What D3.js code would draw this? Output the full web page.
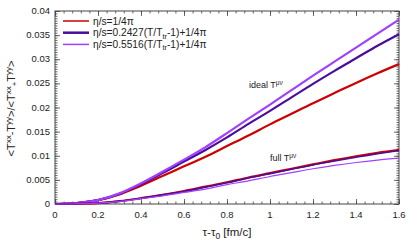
<!DOCTYPE html>
<html>
<head>
<meta charset="utf-8">
<script src="https://cdn.jsdelivr.net/npm/d3@7"></script>
<style>
  body { margin: 0; background: #fff; }
  svg text { font-family: "Liberation Sans", Arial, sans-serif; fill: #222; }
</style>
</head>
<body>
<div id="chart"></div>
<script>
// time axis values
var tau = [0, 0.1, 0.2, 0.3, 0.4, 0.5, 0.6, 0.7, 0.8, 0.9, 1.0, 1.1, 1.2, 1.3, 1.4, 1.5, 1.6];

// ideal T^{mu nu} anisotropy
var idealConst = [0, 0.0002, 0.0008, 0.0020, 0.0038, 0.0058, 0.0078, 0.0098, 0.0120, 0.0142, 0.0165, 0.0187, 0.0209, 0.0230, 0.0251, 0.0271, 0.0290];
var idealA = [0, 0.0002, 0.0008, 0.0021, 0.0041, 0.0064, 0.0088, 0.0112, 0.0138, 0.0166, 0.0193, 0.0221, 0.0249, 0.0276, 0.0302, 0.0328, 0.0352];
var idealB = [0, 0.0002, 0.0008, 0.0022, 0.0043, 0.0067, 0.0092, 0.0118, 0.0147, 0.0177, 0.0206, 0.0236, 0.0266, 0.0295, 0.0324, 0.0353, 0.0382];

// full T^{mu nu} anisotropy
var fullConst = [0, 0.00005, 0.0002, 0.0006, 0.0012, 0.0019, 0.0027, 0.0036, 0.0045, 0.0055, 0.0064, 0.0073, 0.0082, 0.0091, 0.0099, 0.0106, 0.0112];
var fullA = [0, 0.00005, 0.0002, 0.0006, 0.0012, 0.0019, 0.0026, 0.0035, 0.0044, 0.0054, 0.0063, 0.0072, 0.0081, 0.0089, 0.0097, 0.0104, 0.0111];
var fullB = [0, 0.00005, 0.0002, 0.0005, 0.0011, 0.0017, 0.0024, 0.0031, 0.0040, 0.0048, 0.0057, 0.0065, 0.0073, 0.0080, 0.0086, 0.0091, 0.0095];

var xTicks = [0, 0.2, 0.4, 0.6, 0.8, 1, 1.2, 1.4, 1.6];
var yTicks = [0, 0.005, 0.01, 0.015, 0.02, 0.025, 0.03, 0.035, 0.04];

var colors = {c: "#cc0000", a: "#4a0d9c", b: "#a040ff"};

// setting the dimensions and margins of the chart
var margin = {top: 11, right: 13, bottom: 43, left: 55},
    width = 412 - margin.left - margin.right,
    height = 247 - margin.top - margin.bottom;

var svg = d3.select("#chart").append("svg")
    .attr("width", 412)
    .attr("height", 247)
  .append("g")
    .attr("transform", "translate(" + margin.left + "," + margin.top + ")");

var x = d3.scaleLinear().domain([0, 1.6]).range([0, width]);
var y = d3.scaleLinear().domain([0, 0.04]).range([height, 0]);

// minor ticks, all pointing inward
var xMinor = d3.range(0, 1.6001, 0.04);
var yMinor = d3.range(0, 0.04001, 0.0005);

function styleAxis(g) {
  g.select(".domain").remove();
  g.selectAll("line").attr("stroke", "#444").attr("stroke-width", 0.8);
}

svg.append("g").attr("transform", "translate(0," + height + ")")
  .call(d3.axisTop(x).tickValues(xMinor).tickSize(2.5).tickFormat(""))
  .call(styleAxis);
svg.append("g")
  .call(d3.axisBottom(x).tickValues(xMinor).tickSize(2.5).tickFormat(""))
  .call(styleAxis);
svg.append("g")
  .call(d3.axisRight(y).tickValues(yMinor).tickSize(2.5).tickFormat(""))
  .call(styleAxis);
svg.append("g").attr("transform", "translate(" + width + ",0)")
  .call(d3.axisLeft(y).tickValues(yMinor).tickSize(2.5).tickFormat(""))
  .call(styleAxis);

// major ticks with labels
svg.append("g").attr("transform", "translate(0," + height + ")")
  .call(d3.axisTop(x).tickValues(xTicks).tickSize(5).tickFormat(""))
  .call(styleAxis);
svg.append("g")
  .call(d3.axisBottom(x).tickValues(xTicks).tickSize(5).tickFormat(""))
  .call(styleAxis);
svg.append("g")
  .call(d3.axisRight(y).tickValues(yTicks).tickSize(5).tickFormat(""))
  .call(styleAxis);
svg.append("g").attr("transform", "translate(" + width + ",0)")
  .call(d3.axisLeft(y).tickValues(yTicks).tickSize(5).tickFormat(""))
  .call(styleAxis);

svg.append("g").selectAll("text")
  .data(xTicks).enter().append("text")
    .attr("x", function(d) { return x(d); })
    .attr("y", height + 14)
    .attr("text-anchor", "middle")
    .attr("font-size", "9.5px")
    .text(function(d) { return d; });

svg.append("g").selectAll("text")
  .data(yTicks).enter().append("text")
    .attr("x", -5)
    .attr("y", function(d) { return y(d) + 3; })
    .attr("text-anchor", "end")
    .attr("font-size", "9.5px")
    .text(function(d) { return d; });

// frame
svg.append("rect")
  .attr("width", width).attr("height", height)
  .attr("fill", "none").attr("stroke", "#444").attr("stroke-width", 1);

// lines
var series = [
  {v: idealConst, c: colors.c, w: 2.2},
  {v: idealA, c: colors.a, w: 2.2},
  {v: idealB, c: colors.b, w: 2.2},
  {v: fullConst, c: colors.c, w: 2.2},
  {v: fullA, c: colors.a, w: 1.6},
  {v: fullB, c: colors.b, w: 1.2}
];

var line = d3.line()
  .x(function(d, i) { return x(tau[i]); })
  .y(function(d) { return y(d); })
  .curve(d3.curveMonotoneX);

svg.append("g").selectAll("path")
  .data(series).enter().append("path")
    .attr("d", function(d) { return line(d.v); })
    .attr("fill", "none")
    .attr("stroke", function(d) { return d.c; })
    .attr("stroke-width", function(d) { return d.w; });

// legend
var legend = [
  {label: "η/s=1/4π", c: colors.c, w: 1.5},
  {label: "η/s=0.2427(T/T", sub: "tr", tail: "-1)+1/4π", c: colors.a, w: 2.5},
  {label: "η/s=0.5516(T/T", sub: "tr", tail: "-1)+1/4π", c: colors.b, w: 1.5}
];
var lg = svg.append("g").selectAll("g")
  .data(legend).enter().append("g")
    .attr("transform", function(d, i) { return "translate(0," + (10 + i * 11.7) + ")"; });
lg.append("line")
  .attr("x1", 8).attr("x2", 34).attr("y1", 0).attr("y2", 0)
  .attr("stroke", function(d) { return d.c; })
  .attr("stroke-width", function(d) { return d.w; });
var lt = lg.append("text")
  .attr("x", 38).attr("y", 3.5)
  .attr("font-size", "10.2px");
lt.append("tspan").text(function(d) { return d.label; });
lt.filter(function(d) { return d.sub; }).append("tspan")
  .attr("font-size", "7.5px").attr("dy", 2.5).text(function(d) { return d.sub; });
lt.filter(function(d) { return d.sub; }).append("tspan")
  .attr("dy", -2.5).text(function(d) { return d.tail; });

// annotations
function tensorLabel(txt, px, py) {
  var t = svg.append("text").attr("x", px).attr("y", py).attr("font-size", "9px");
  t.append("tspan").text(txt + " T");
  t.append("tspan").attr("font-size", "6.5px").attr("dy", -3.5).text("μν");
}
tensorLabel("ideal", 194, 77);
tensorLabel("full", 215, 150);

// axis labels
var xl = svg.append("text")
  .attr("x", width / 2).attr("y", height + 32)
  .attr("text-anchor", "middle").attr("font-size", "11.5px");
xl.append("tspan").text("τ-τ");
xl.append("tspan").attr("font-size", "8.5px").attr("dy", 3).text("0");
xl.append("tspan").attr("dy", -3).text(" [fm/c]");

var yl = svg.append("text")
  .attr("transform", "translate(-40," + (height / 2 + 1) + ") rotate(-90)")
  .attr("text-anchor", "middle").attr("font-size", "11px");
[["<T", 0, 11], ["xx", -4, 8], ["-T", 4, 11], ["yy", -4, 8], [">/<T", 4, 11],
 ["xx", -4, 8], ["+", 6, 8], ["T", -2, 11], ["yy", -4, 8], [">", 4, 11]].forEach(function(p) {
  yl.append("tspan").attr("dy", p[1]).attr("font-size", p[2] + "px").text(p[0]);
});
</script>
</body>
</html>
